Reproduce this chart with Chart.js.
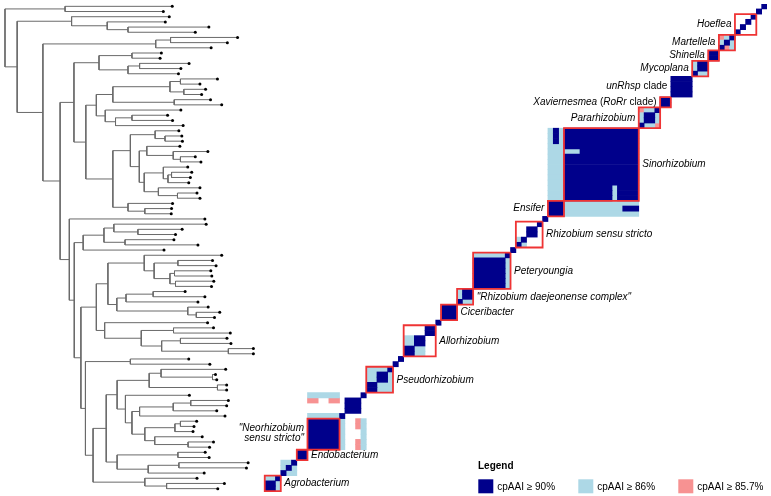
<!DOCTYPE html>
<html>
<head>
<meta charset="utf-8">
<script src="https://cdn.jsdelivr.net/npm/chart.js@4.4.1/dist/chart.umd.min.js"></script>
<style>
    html, body { margin: 0; padding: 0; background: #fff; }
    #wrap { position: relative; width: 771px; height: 496px; }
</style>
</head>
<body>
<div id="wrap"><canvas id="myChart"></canvas></div>
<script>
// tree as newick, branch lengths (1 unit = 1 px)
var treeNewick = [
    "((:108.3,:99.3):60.7,",
    "((:98.7,(:58.7,(:81.7,:68):21):36):55,",
    "(((:67.7,:57.4):15,:56):114,",
    "(",
    "(((:29.7,:28.4):33.3,((:50,:41.7):11.7,:51):29.3):25.3,",
    "(",
    "((((:37.4,:19.7):10.6,(:22,:18):14):57.7,(:36.7,:48):62):16.7,(:76.4,((:36,:41):16.6,:68.3):10.4):9):10.6,",
    "((",
    "(:24,(:17,:17.6):10):25,",
    "((:33.4,(:35,(:15,:20.7):7.3):26.7):7.6,((:24.7,((:20.4,:19):3.6,:21):4.7):19.3,(:42,(:19.7,:22.7):19.3):14.3):5):9",
    "):17.7,",
    "(:45,(:27,:26.7):17):15.3",
    "):27.3",
    "):12",
    "):14,",
    "(:137,(",
    "(((:93.3,(:44.7,:38):24.3):10,(:49.4,:73.7):21.3):21,:81.7):9,",
    "((",
    "((:78.3,((:35,:38.6):24,((:36.7,:37.7):4.6,(:38.7,:36.4):5.6):16):10):36.7,(((:32.3,:52.3):27.4,:72.7):9.3,(:20.6,(:23.7,:18.4):8.6):71.7):9):11.7,",
    "(:104,((:40.4,:57.4):32.6,((:47,:51):19,(:25.3,:25.3):67.4):20.6):37):8.4",
    "):15.6,",
    "((:59,:80.3):45.4,",
    "((",
    "(((:65.3,(:3,:4.3):52):12,(:9.3,:9.3):69):32.4,(:64.6,((((:38,:36.3):17.7,:44):34,:86.3):7.7,(((:16.4,:13.7):5.6,:18.3):30.4,(:48,(:25.7,:21.7):33.7):10):13):6.6):8.4):11,",
    "((:27.6,:31.6):61.4,((:70,:68.3):31,:56.6):31.4):11",
    "):13.3,",
    "(:52.7,(:58.4,:51.7):22):52.3",
    "):7.7",
    "):4.6",
    "):6.7",
    "):5",
    "):9.3",
    "):17.4",
    "):26",
    "):12.3",
    ");"
].join('');

var nTips = 94;

// cpAAI levels: 1 = >=90, 2 = >=86, 3 = >=85.7
var levelLabels = ['cpAAI \u2265 90%', 'cpAAI \u2265 86%', 'cpAAI \u2265 85.7%'];
var levelColors = ['#00008B', '#ADD8E6', '#F79292'];

// [rowFrom, rowTo, colFrom, colTo, level], mirrored, later ones win
var aaiBlocks = [
    [6, 8, 6, 8, 2], [6, 6, 8, 8, 3],
    [9, 10, 9, 10, 1],
    [11, 13, 11, 13, 2], [11, 12, 11, 12, 1],
    [14, 17, 14, 17, 1],
    [18, 19, 18, 19, 1],
    [20, 23, 20, 23, 2], [21, 22, 21, 22, 1], [20, 20, 23, 23, 3],
    [24, 40, 24, 40, 2], [24, 37, 24, 37, 1], [38, 40, 38, 40, 1], [39, 39, 24, 26, 1], [28, 28, 35, 37, 2],
    [43, 44, 43, 44, 1], [45, 46, 45, 46, 2],
    [48, 54, 48, 54, 2], [49, 54, 49, 54, 1],
    [55, 57, 55, 57, 2], [55, 56, 55, 56, 1],
    [58, 60, 58, 60, 1],
    [64, 67, 64, 67, 2], [62, 63, 62, 63, 1], [64, 65, 64, 65, 1], [66, 67, 66, 67, 1],
    [70, 74, 70, 74, 2], [71, 72, 71, 72, 1], [73, 74, 73, 74, 1],
    [76, 78, 76, 78, 1],
    [75, 75, 80, 85, 2], [76, 76, 80, 81, 3], [76, 76, 84, 85, 3],
    [79, 85, 79, 85, 2], [80, 85, 80, 85, 1],
    [86, 87, 86, 87, 1],
    [88, 90, 88, 90, 2],
    [91, 93, 91, 93, 2], [92, 93, 92, 93, 1]
];
// [row, col, level] not mirrored
var aaiOneWay = [[8, 6, 2], [8, 7, 3]];

// genus labels (*...* = italic), rows, side of the label, red box or not
var genusNames = ['*Hoeflea*', '*Martellela*', '*Shinella*', '*Mycoplana*', '*unRhsp* clade',
    '*Xaviernesmea* (*RoRr* clade)', '*Pararhizobium*', '*Sinorhizobium*', '*Ensifer*',
    '*Rhizobium sensu stricto*', '*Peteryoungia*', '*"Rhizobium daejeonense complex"*',
    '*Ciceribacter*', '*Allorhizobium*', '*Pseudorhizobium*', '*"Neorhizobium*\n*sensu stricto"*',
    '*Endobacterium*', '*Agrobacterium*'];
var genusFrom = [2, 6, 9, 11, 14, 18, 20, 24, 38, 42, 48, 55, 58, 62, 70, 80, 86, 91];
var genusTo = [5, 8, 10, 13, 17, 19, 23, 37, 40, 46, 54, 57, 60, 67, 74, 85, 87, 93];
var genusSide = ['L', 'L', 'L', 'L', 'L', 'L', 'L', 'R', 'L', 'R', 'R', 'R', 'R', 'R', 'R', 'L', 'R', 'R'];
var genusBox = [1, 1, 1, 1, 0, 1, 1, 1, 1, 1, 1, 1, 1, 1, 1, 1, 1, 1];

var FONT = '"Liberation Sans", Arial, Helvetica, sans-serif';

// parse newick
function parseNewick(s) {
    s = s.replace(/\s+/g, '');
    var pos = 0;
    function node() {
        var n = { children: [], len: 0 };
        if (s[pos] === '(') {
            pos++;
            n.children.push(node());
            while (s[pos] === ',') { pos++; n.children.push(node()); }
            pos++;
        }
        while (pos < s.length && ',():;'.indexOf(s[pos]) < 0) pos++;
        if (s[pos] === ':') {
            pos++;
            var st = pos;
            while (pos < s.length && ',();'.indexOf(s[pos]) < 0) pos++;
            n.len = parseFloat(s.slice(st, pos));
        }
        return n;
    }
    return node();
}

var tree = parseNewick(treeNewick);
var tipCount = 0;
function layout(n, x0) {
    n.x = x0 + n.len;
    if (!n.children.length) { n.y = tipCount++; return; }
    n.children.forEach(function (c) { layout(c, n.x); });
    n.y = (n.children[0].y + n.children[n.children.length - 1].y) / 2;
}
tree.len = 0;
layout(tree, 0);

var branchPts = [], tipPts = [];
function collect(n) {
    if (!n.children.length) { tipPts.push({ x: n.x, y: n.y }); return; }
    var first = n.children[0], last = n.children[n.children.length - 1];
    branchPts.push({ x: n.x, y: first.y }, { x: n.x, y: last.y }, { x: n.x, y: null });
    n.children.forEach(function (c) {
        branchPts.push({ x: n.x, y: c.y }, { x: c.x, y: c.y }, { x: c.x, y: null });
        collect(c);
    });
}
collect(tree);

// cpAAI matrix
var M = [];
for (var r = 0; r < nTips; r++) M.push(new Array(nTips).fill(0));
aaiBlocks.forEach(function (b) {
    for (var i = b[0]; i <= b[1]; i++)
        for (var j = b[2]; j <= b[3]; j++) { M[i][j] = b[4]; M[j][i] = b[4]; }
});
aaiOneWay.forEach(function (p) { M[p[0]][p[1]] = p[2]; });
for (var d = 0; d < nTips; d++) M[d][d] = 1;

function runsFor(level) {
    var out = [];
    for (var i = 0; i < nTips; i++) {
        var j = 0;
        while (j < nTips) {
            if (M[i][j] === level) {
                var k = j;
                while (k + 1 < nTips && M[i][k + 1] === level) k++;
                out.push({ y: i, x: [j - 0.5, k + 0.5] });
                j = k + 1;
            } else j++;
        }
    }
    return out;
}

var boxPts = [];
for (var g = 0; g < genusNames.length; g++) {
    if (!genusBox[g]) continue;
    var a = genusFrom[g] - 0.5, b = genusTo[g] + 0.5;
    boxPts.push({ x: a, y: a }, { x: b, y: a }, { x: b, y: b }, { x: a, y: b }, { x: a, y: a }, { x: a, y: null });
}

var datasets = [];
[1, 2, 3].forEach(function (lv) {
    datasets.push({
        type: 'bar',
        label: levelLabels[lv - 1],
        data: runsFor(lv),
        indexAxis: 'y',
        xAxisID: 'xh',
        yAxisID: 'y',
        backgroundColor: levelColors[lv - 1],
        borderWidth: 0,
        grouped: false,
        barPercentage: 1,
        categoryPercentage: 1,
        order: 5
    });
});
datasets.push({
    type: 'line', label: 'tree', data: branchPts, xAxisID: 'xt', yAxisID: 'y',
    borderColor: '#6a6a6a', borderWidth: 1, pointRadius: 0, spanGaps: false, order: 3
});
datasets.push({
    type: 'scatter', label: 'tips', data: tipPts, xAxisID: 'xt', yAxisID: 'y',
    backgroundColor: '#000', borderWidth: 0, pointRadius: 1.5, order: 2
});
datasets.push({
    type: 'line', label: 'genera', data: boxPts, xAxisID: 'xh', yAxisID: 'y',
    borderColor: '#EF3434', borderWidth: 1.8, pointRadius: 0, spanGaps: false,
    borderJoinStyle: 'miter', order: 1
});

function drawRich(c, txt, x, y, align) {
    var parts = txt.split('*'), segs = [], w = 0;
    for (var i = 0; i < parts.length; i++) {
        if (!parts[i]) continue;
        c.font = (i % 2 ? 'italic ' : '') + '10px ' + FONT;
        var pw = c.measureText(parts[i]).width;
        segs.push([parts[i], c.font, pw]);
        w += pw;
    }
    var cx = align === 'right' ? x - w : x;
    c.textAlign = 'left';
    segs.forEach(function (sg) { c.font = sg[1]; c.fillText(sg[0], cx, y); cx += sg[2]; });
}

var labelPlugin = {
    id: 'genusLabels',
    afterDatasetsDraw: function (chart) {
        var c = chart.ctx, xs = chart.scales.xh, ys = chart.scales.y;
        c.save();
        c.fillStyle = '#000';
        c.textBaseline = 'middle';
        for (var i = 0; i < genusNames.length; i++) {
            var left = xs.getPixelForValue(genusTo[i] + 0.5);
            var right = xs.getPixelForValue(genusFrom[i] - 0.5);
            var cy = ys.getPixelForValue((genusFrom[i] + genusTo[i]) / 2);
            var lines = genusNames[i].split('\n');
            for (var k = 0; k < lines.length; k++) {
                var ly = cy + (k - (lines.length - 1) / 2) * 10.4 - (lines.length - 1) * 1;
                if (genusSide[i] === 'L') drawRich(c, lines[k], left - 3.5, ly, 'right');
                else drawRich(c, lines[k], right + 3.5, ly, 'left');
            }
        }
        // legend
        c.font = 'bold 10px ' + FONT;
        c.textAlign = 'left';
        c.fillText('Legend', 478, 466.5);
        for (var j = 0; j < levelLabels.length; j++) {
            var lx = 478.3 + j * 100;
            c.fillStyle = levelColors[j];
            c.fillRect(lx, 479.3, 15, 14);
            c.fillStyle = '#000';
            c.font = '10px ' + FONT;
            c.fillText(levelLabels[j], lx + 19, 486.8);
        }
        c.restore();
    }
};

var ctx = document.getElementById('myChart').getContext('2d');
new Chart(ctx, {
    type: 'bar',
    data: { datasets: datasets },
    options: {
        responsive: true,
        maintainAspectRatio: false,
        animation: false,
        events: [],
        layout: { padding: 0 },
        plugins: { legend: { display: false }, tooltip: { enabled: false } },
        scales: {
            xt: { type: 'linear', axis: 'x', display: false, min: -1, max: 770, offset: false },
            xh: { type: 'linear', axis: 'x', display: false, reverse: true, min: -0.5, max: 142.3,
                  offset: false, beginAtZero: false },
            y: { type: 'linear', axis: 'y', display: false, reverse: true, min: -0.45, max: 93.65,
                 offset: false, beginAtZero: false, ticks: { count: 2 } }
        }
    },
    plugins: [labelPlugin]
});
</script>
</body>
</html>
